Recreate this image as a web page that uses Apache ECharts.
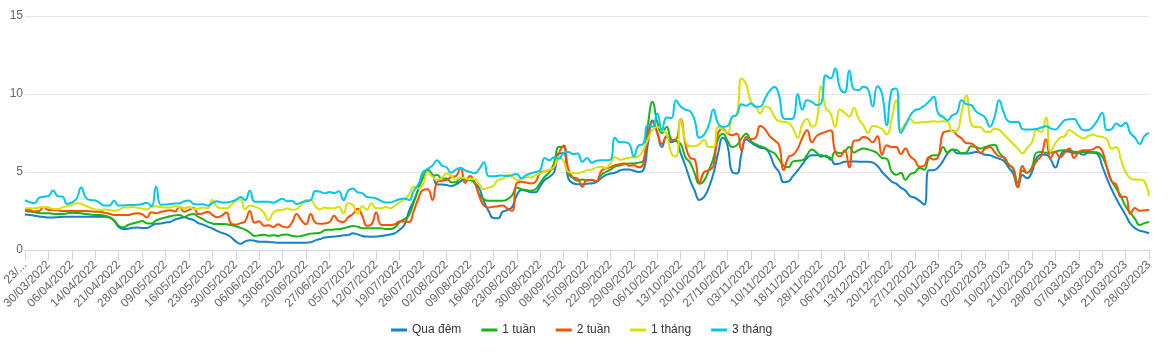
<!DOCTYPE html>
<html>
<head>
<meta charset="utf-8">
<script src="https://cdn.jsdelivr.net/npm/echarts@6/dist/echarts.min.js"></script>
<style>
html,body{margin:0;padding:0;background:#fff;}
#chart{width:1173px;height:355px;}
</style>
</head>
<body>
<div id="chart"></div>
<script>
const categories = [
"23/03/2022","24/03/2022","25/03/2022","28/03/2022","29/03/2022",
"30/03/2022","31/03/2022","01/04/2022","04/04/2022","05/04/2022",
"06/04/2022","07/04/2022","08/04/2022","12/04/2022","13/04/2022",
"14/04/2022","15/04/2022","18/04/2022","19/04/2022","20/04/2022",
"21/04/2022","22/04/2022","25/04/2022","26/04/2022","27/04/2022",
"28/04/2022","29/04/2022","04/05/2022","05/05/2022","06/05/2022",
"09/05/2022","10/05/2022","11/05/2022","12/05/2022","13/05/2022",
"16/05/2022","17/05/2022","18/05/2022","19/05/2022","20/05/2022",
"23/05/2022","24/05/2022","25/05/2022","26/05/2022","27/05/2022",
"30/05/2022","31/05/2022","01/06/2022","02/06/2022","03/06/2022",
"06/06/2022","07/06/2022","08/06/2022","09/06/2022","10/06/2022",
"13/06/2022","14/06/2022","15/06/2022","16/06/2022","17/06/2022",
"20/06/2022","21/06/2022","22/06/2022","23/06/2022","24/06/2022",
"27/06/2022","28/06/2022","29/06/2022","30/06/2022","04/07/2022",
"05/07/2022","06/07/2022","07/07/2022","08/07/2022","11/07/2022",
"12/07/2022","13/07/2022","14/07/2022","15/07/2022","18/07/2022",
"19/07/2022","20/07/2022","21/07/2022","22/07/2022","25/07/2022",
"26/07/2022","27/07/2022","28/07/2022","29/07/2022","01/08/2022",
"02/08/2022","03/08/2022","04/08/2022","05/08/2022","08/08/2022",
"09/08/2022","10/08/2022","11/08/2022","12/08/2022","15/08/2022",
"16/08/2022","17/08/2022","18/08/2022","19/08/2022","22/08/2022",
"23/08/2022","24/08/2022","25/08/2022","26/08/2022","29/08/2022",
"30/08/2022","31/08/2022","05/09/2022","06/09/2022","07/09/2022",
"08/09/2022","09/09/2022","12/09/2022","13/09/2022","14/09/2022",
"15/09/2022","16/09/2022","19/09/2022","20/09/2022","21/09/2022",
"22/09/2022","23/09/2022","26/09/2022","27/09/2022","28/09/2022",
"29/09/2022","30/09/2022","03/10/2022","04/10/2022","05/10/2022",
"06/10/2022","07/10/2022","10/10/2022","11/10/2022","12/10/2022",
"13/10/2022","14/10/2022","17/10/2022","18/10/2022","19/10/2022",
"20/10/2022","21/10/2022","24/10/2022","25/10/2022","26/10/2022",
"27/10/2022","28/10/2022","31/10/2022","01/11/2022","02/11/2022",
"03/11/2022","04/11/2022","07/11/2022","08/11/2022","09/11/2022",
"10/11/2022","11/11/2022","14/11/2022","15/11/2022","17/11/2022",
"18/11/2022","21/11/2022","22/11/2022","23/11/2022","25/11/2022",
"28/11/2022","29/11/2022","30/11/2022","01/12/2022","02/12/2022",
"06/12/2022","07/12/2022","08/12/2022","09/12/2022","12/12/2022",
"13/12/2022","14/12/2022","15/12/2022","16/12/2022","19/12/2022",
"20/12/2022","21/12/2022","22/12/2022","23/12/2022","26/12/2022",
"27/12/2022","28/12/2022","29/12/2022","04/01/2023","09/01/2023",
"10/01/2023","11/01/2023","12/01/2023","13/01/2023","16/01/2023",
"19/01/2023","20/01/2023","30/01/2023","31/01/2023","01/02/2023",
"02/02/2023","03/02/2023","07/02/2023","08/02/2023","09/02/2023",
"10/02/2023","13/02/2023","15/02/2023","16/02/2023","17/02/2023",
"21/02/2023","22/02/2023","23/02/2023","24/02/2023","27/02/2023",
"28/02/2023","01/03/2023","02/03/2023","03/03/2023","06/03/2023",
"07/03/2023","08/03/2023","09/03/2023","10/03/2023","13/03/2023",
"14/03/2023","15/03/2023","16/03/2023","17/03/2023","20/03/2023",
"21/03/2023","22/03/2023","23/03/2023","24/03/2023","27/03/2023",
"28/03/2023"
];

const seriesNames = ["Qua đêm", "1 tuần", "2 tuần", "1 tháng", "3 tháng"];

const quaDem = [
2.28,2.25,2.2,2.15,2.12,2.09,2.09,2.1,2.12,2.13,
2.13,2.13,2.13,2.13,2.13,2.13,2.13,2.13,2.09,1.88,
1.48,1.34,1.36,1.42,1.45,1.41,1.41,1.55,1.68,1.7,
1.76,1.8,1.95,2.03,2.1,2.0,1.92,1.72,1.63,1.5,
1.38,1.22,1.1,1.0,0.82,0.55,0.4,0.55,0.63,0.6,
0.53,0.53,0.52,0.5,0.47,0.47,0.47,0.47,0.47,0.47,
0.47,0.5,0.62,0.7,0.8,0.83,0.86,0.9,0.94,0.96,
1.07,1.0,0.9,0.86,0.85,0.86,0.9,0.94,1.0,1.08,
1.3,1.6,2.5,3.15,3.9,5.0,5.1,4.82,4.2,4.2,
4.16,4.1,4.2,4.4,4.55,4.55,4.3,3.95,3.1,2.5,
2.05,2.03,2.46,2.56,2.75,3.5,3.84,3.8,3.7,3.7,
4.1,4.5,4.7,5.0,6.2,6.2,4.6,4.28,4.22,4.22,
4.25,4.27,4.35,4.6,4.8,4.9,4.95,5.1,5.16,5.16,
5.08,5.0,5.1,6.8,8.3,7.5,6.6,7.3,6.9,7.0,
6.2,5.4,4.5,3.8,3.2,3.4,4.0,4.9,6.2,7.2,
6.7,5.0,4.91,6.2,7.1,6.9,6.7,6.55,6.5,6.15,
5.4,5.0,4.35,4.4,4.75,5.1,5.5,5.9,6.08,6.08,
6.08,5.98,5.9,5.5,5.55,5.66,5.66,5.68,5.66,5.66,
5.66,5.6,5.4,5.0,4.7,4.4,4.25,4.0,3.8,3.45,
3.35,3.15,2.9,5.12,5.12,5.3,5.7,6.2,6.45,6.2,
6.19,6.19,6.22,6.28,6.25,6.1,6.08,5.95,5.85,5.7,
5.3,4.9,4.05,4.8,4.6,5.0,5.9,6.1,6.1,5.8,
5.29,6.0,6.35,6.29,6.2,6.22,6.1,6.23,6.23,6.15,
5.4,4.6,3.9,3.3,2.75,2.25,1.7,1.4,1.24,1.17,1.07
];

const tuan1 = [
2.5,2.46,2.42,2.37,2.35,2.35,2.32,2.3,2.31,2.35,
2.38,2.37,2.35,2.31,2.28,2.24,2.24,2.2,2.1,1.9,
1.55,1.45,1.6,1.7,1.78,1.86,1.72,1.7,1.9,2.0,
2.08,2.16,2.22,2.24,2.12,2.25,2.3,2.12,1.98,1.8,
1.7,1.66,1.66,1.65,1.6,1.52,1.42,1.3,1.12,0.9,
0.95,0.98,0.92,0.95,0.9,0.98,1.0,0.9,0.87,0.9,
0.97,1.05,1.07,1.1,1.27,1.3,1.32,1.33,1.4,1.47,
1.54,1.49,1.4,1.39,1.39,1.39,1.39,1.35,1.34,1.45,
1.8,1.98,2.25,3.05,3.9,4.65,5.16,4.76,4.8,4.59,
4.59,4.35,4.35,4.6,4.5,4.48,4.3,3.55,3.25,3.16,
3.16,3.16,3.16,3.25,3.5,4.0,3.9,3.85,3.8,3.9,
4.3,4.7,5.0,5.6,6.6,6.6,4.9,4.62,4.44,4.52,
4.45,4.5,4.4,4.8,5.0,5.15,5.35,5.42,5.5,5.55,
5.55,5.6,5.7,8.0,9.5,8.2,7.5,7.9,7.1,7.0,
6.8,5.95,5.6,4.9,4.25,4.45,5.1,5.9,7.1,7.45,
7.0,6.6,6.72,7.15,7.45,7.0,6.78,6.65,6.55,6.35,
6.2,5.8,5.4,5.3,5.68,5.72,5.75,6.1,6.45,6.25,
5.98,6.05,5.78,6.3,6.2,6.3,6.6,6.25,6.4,6.5,
6.45,6.35,6.2,5.9,5.85,5.05,4.82,4.95,4.5,4.85,
4.98,5.25,5.15,5.9,6.08,6.08,6.6,6.25,6.45,6.4,
6.2,6.25,6.65,6.6,6.51,6.6,6.7,6.75,6.25,5.9,
5.45,5.25,4.3,5.1,4.95,5.3,6.25,6.29,6.23,6.23,
6.3,6.38,6.4,6.4,6.3,6.29,6.29,6.29,6.29,6.25,
6.0,5.3,4.45,3.95,3.45,2.8,2.4,2.0,1.6,1.72,1.8
];

const tuan2 = [
2.6,2.57,2.47,2.5,2.75,2.56,2.56,2.54,2.5,2.5,
2.5,2.5,2.5,2.5,2.48,2.45,2.45,2.38,2.33,2.25,
2.24,2.24,2.24,2.32,2.35,2.3,2.09,2.42,2.35,2.45,
2.5,2.55,2.47,2.78,2.45,2.57,2.7,2.3,2.35,2.45,
2.25,2.1,2.2,2.4,1.7,1.62,1.72,1.85,2.5,1.75,
1.85,1.55,1.58,1.48,1.65,1.5,1.45,1.75,2.3,1.9,
1.65,2.3,1.75,1.68,1.7,1.78,2.2,1.85,1.8,2.1,
2.3,2.65,2.2,1.55,1.65,2.4,1.62,1.6,1.6,1.65,
1.82,1.82,1.8,2.5,3.3,3.85,3.9,3.2,4.35,4.44,
4.5,4.68,4.74,5.25,4.3,4.75,4.35,3.45,2.85,2.73,
2.77,2.8,2.86,2.65,2.5,4.3,4.37,4.32,4.27,4.37,
4.95,5.05,5.12,5.3,6.2,6.7,5.2,4.65,4.58,4.05,
4.48,4.48,4.4,5.05,5.23,5.3,5.44,5.5,5.55,5.4,
5.44,5.3,5.5,7.4,8.2,7.55,6.8,7.25,7.05,7.1,
8.4,6.8,5.9,5.8,4.3,5.0,5.1,5.4,7.5,7.75,
7.47,7.36,7.47,6.4,7.25,7.1,7.2,7.95,7.75,7.3,
7.04,6.72,5.12,5.95,6.1,6.5,7.2,7.68,6.9,7.3,
7.47,7.57,7.68,6.3,6.0,6.4,5.3,7.0,7.04,7.25,
7.15,6.9,7.3,6.1,6.72,6.6,6.6,6.15,6.5,6.0,
5.76,5.34,5.4,5.95,5.8,5.98,7.5,7.62,7.66,7.36,
7.15,6.85,6.83,6.6,6.2,6.5,6.61,6.3,6.0,5.95,
5.5,5.2,4.0,5.38,4.95,5.23,5.7,6.05,7.1,5.9,
6.3,5.95,6.25,6.5,5.9,6.3,6.4,6.4,6.45,6.6,
6.35,5.3,4.4,4.2,3.41,3.41,2.3,2.7,2.52,2.55,2.56
];

const thang1 = [
2.67,2.67,2.67,2.72,2.76,2.72,2.63,2.62,2.73,2.8,
2.9,3.0,2.96,2.82,2.7,2.6,2.57,2.6,2.57,2.52,
2.55,2.73,2.73,2.76,2.7,2.65,2.6,2.77,2.8,2.75,
2.73,2.73,2.8,2.75,2.68,2.78,2.63,2.65,2.72,2.68,
3.2,2.78,2.68,2.67,2.88,3.15,3.25,2.62,2.86,2.78,
2.66,2.4,1.92,2.4,2.55,2.58,2.66,2.58,2.62,2.9,
3.2,3.2,2.8,2.6,2.72,2.67,2.67,2.78,2.35,3.0,
2.9,2.32,2.8,2.6,3.0,2.67,2.67,2.76,2.68,2.85,
3.05,3.25,3.55,4.05,3.95,4.2,5.0,4.7,4.5,4.62,
4.9,4.75,4.5,4.65,4.6,4.55,4.55,4.2,3.9,4.0,
4.1,4.5,4.55,4.8,4.7,4.5,4.52,4.68,4.65,4.8,
4.91,5.05,5.15,5.35,6.0,5.7,5.0,4.95,4.91,5.01,
5.12,5.16,5.28,5.33,5.25,5.55,5.95,5.78,5.85,5.92,
5.93,6.0,6.4,7.1,7.7,7.9,7.7,7.45,6.2,6.0,
8.4,7.0,6.65,6.65,6.8,7.05,6.6,6.6,7.9,7.72,
7.5,8.5,8.7,11.0,10.6,9.5,9.2,8.75,9.2,9.1,
8.55,8.25,8.22,8.15,7.8,7.2,8.1,8.4,7.9,8.2,
10.5,9.1,8.75,7.9,9.0,8.8,8.55,9.1,8.4,8.0,
7.5,7.95,7.9,7.75,7.4,8.3,9.6,7.7,8.11,8.4,
8.15,8.17,8.2,8.22,8.26,8.22,8.26,8.22,7.6,7.65,
8.85,9.9,8.1,7.89,7.89,7.6,7.57,7.78,7.7,7.4,
7.1,6.8,6.5,6.2,6.55,6.9,7.7,7.55,8.5,6.3,
6.85,7.2,7.3,7.7,7.5,7.3,7.15,7.3,7.4,7.3,
7.25,7.1,6.5,6.6,5.8,5.0,4.6,4.5,4.52,4.4,3.46
];

const thang3 = [
3.2,3.07,3.0,3.35,3.42,3.46,3.82,3.45,3.42,2.95,
3.05,3.28,4.0,3.35,3.2,3.18,3.0,2.85,2.85,3.15,
2.85,2.86,2.88,2.88,2.9,2.95,3.03,2.8,4.05,2.9,
2.92,2.95,2.98,3.0,3.12,3.18,2.95,2.92,2.94,2.85,
3.0,3.12,3.05,3.05,3.1,3.22,3.4,3.2,3.8,3.1,
3.09,3.09,3.09,3.03,3.16,3.28,3.12,3.15,2.95,3.05,
3.12,3.2,3.78,3.73,3.63,3.72,3.65,3.76,3.2,3.8,
3.95,3.7,3.65,3.4,3.37,3.3,3.15,3.05,3.05,3.15,
3.25,3.3,3.2,3.8,4.2,4.95,5.2,5.42,5.76,5.42,
5.3,4.95,5.15,5.25,5.1,5.0,4.92,5.2,5.62,4.72,
4.72,4.76,4.78,4.74,4.8,4.87,4.6,4.8,4.91,5.0,
5.12,5.9,5.76,5.95,5.85,6.23,6.29,6.15,6.19,5.65,
5.9,5.6,5.72,5.76,5.76,5.78,7.2,6.9,6.9,6.8,
6.0,6.7,6.8,8.0,7.9,8.75,7.7,8.5,8.45,9.6,
9.2,9.0,8.9,8.3,7.2,7.4,8.0,9.0,8.1,7.89,
7.95,8.55,8.68,9.35,9.25,9.39,9.18,9.2,9.7,10.2,
10.45,9.9,8.43,8.39,8.43,10.0,9.0,9.6,9.5,9.3,
9.39,11.2,11.0,11.63,10.4,10.1,11.5,10.3,10.25,10.46,
10.3,9.2,10.5,10.0,8.0,10.2,10.35,7.5,8.0,8.6,
8.96,9.05,9.25,9.5,9.82,8.75,8.53,8.32,8.64,8.8,
9.6,9.35,9.3,8.9,8.7,8.5,7.9,8.5,9.6,8.8,
8.25,8.2,8.22,7.75,7.72,7.72,7.75,7.85,7.94,7.8,
7.72,8.0,8.32,8.38,8.4,8.0,7.68,7.68,7.9,8.32,
8.8,7.68,7.75,8.11,7.94,8.15,7.5,7.2,6.79,7.3,7.51
];

const colors = ["#1581c6", "#14b514", "#ff4f00", "#d8e000", "#00c6ec"];
const yMin = 0, yMax = 15, yStep = 5;

const chart = echarts.init(document.getElementById('chart'), null, {renderer: 'canvas'});
const dataSets = [quaDem, tuan1, tuan2, thang1, thang3];
const font = 'Liberation Sans, Arial, sans-serif';

chart.setOption({
  animation: false,
  color: colors,
  grid: {left: 25, right: 24, top: 16, bottom: 105, containLabel: false, outerBoundsMode: 'none'},
  legend: {
    bottom: 14,
    left: 386,
    itemWidth: 16,
    itemHeight: 3,
    itemGap: 20,
    icon: 'rect',
    textStyle: {color: '#333', fontSize: 12, fontFamily: font},
    data: seriesNames
  },
  xAxis: {
    type: 'category',
    data: categories,
    boundaryGap: false,
    axisLine: {lineStyle: {color: '#ccd6eb'}},
    axisTick: {show: true, interval: 4, length: 10, lineStyle: {color: '#ccd6eb'}},
    axisLabel: {
      interval: 4, rotate: 45, margin: 13, fontSize: 12, color: '#666', fontFamily: font,
      // the first label does not fit in the canvas: shorten it the way the reference does
      formatter: function (value, index) {
        return index === 0 ? value.slice(0, 3) + '...' : value;
      }
    },
    splitLine: {show: false}
  },
  yAxis: {
    type: 'value',
    min: yMin, max: yMax, interval: yStep,
    axisLine: {show: false},
    axisTick: {show: false},
    axisLabel: {margin: 2, fontSize: 12, color: '#666', fontFamily: font},
    splitLine: {lineStyle: {color: '#e6e6e6'}}
  },
  series: seriesNames.map((name, k) => ({
    name: name,
    type: 'line',
    data: dataSets[k],
    smooth: true,
    symbol: 'none',
    showSymbol: false,
    lineStyle: {width: 2, color: colors[k]},
    itemStyle: {color: colors[k]}
  }))
});
</script>
</body>
</html>
